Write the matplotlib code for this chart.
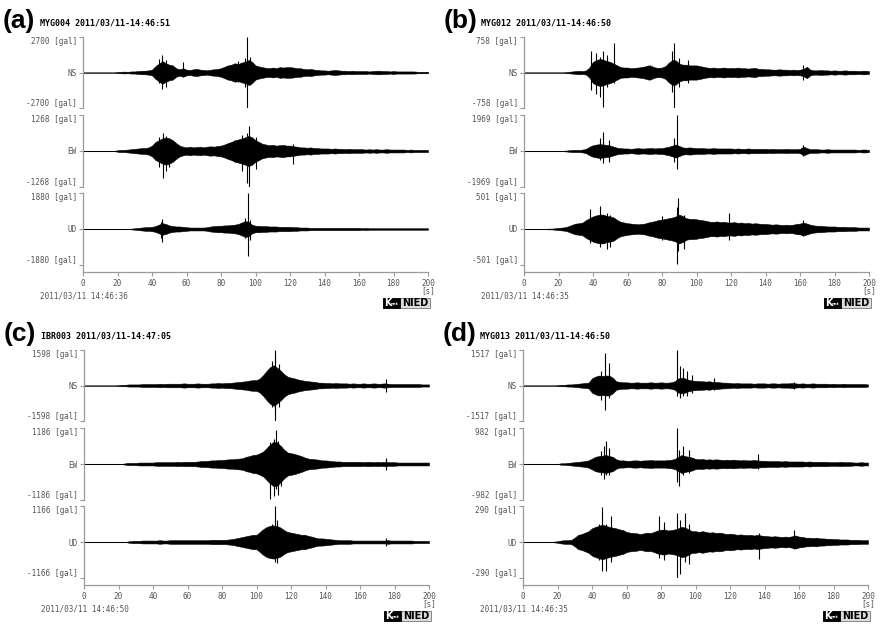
import numpy as np
import matplotlib.pyplot as plt
from matplotlib.patches import Rectangle

# sample times of the read-off envelopes (every 2 s, 0..200 s)
t = np.arange(0, 201, 2)

# panel labels and headers
labels = ['(a)', '(b)', '(c)', '(d)']
stations = ['MYG004 2011/03/11-14:46:51', 'MYG012 2011/03/11-14:46:50',
            'IBR003 2011/03/11-14:47:05', 'MYG013 2011/03/11-14:46:50']
start_times = ['2011/03/11 14:46:36', '2011/03/11 14:46:35',
               '2011/03/11 14:46:50', '2011/03/11 14:46:35']
components = ['NS', 'EW', 'UD']
scales = [[2700, 1268, 1880], [758, 1969, 501], [1598, 1186, 1166], [1517, 982, 290]]

# envelopes, fraction of full scale
env_a_ns = [0, 0, 0, 0, 0, 0, 0, 0, 0, 0,
            .015, .02, .025, .02, .03, .03, .04, .05, .05, .06,
            .08, .18, .25, .32, .26, .22, .2, .12, .09, .12,
            .08, .07, .09, .1, .08, .07, .06, .08, .09, .1,
            .12, .16, .2, .22, .26, .24, .28, .3, .35, .3,
            .2, .17, .15, .13, .12, .14, .12, .15, .14, .15,
            .15, .14, .12, .12, .1, .09, .1, .08, .07, .06,
            .06, .05, .06, .07, .06, .05, .05, .04, .05, .04,
            .04, .04, .04, .03, .04, .05, .05, .04, .04, .03,
            .04, .03, .03, .03, .03, .03, .03, .02, .02, .02, .02]
env_a_ew = [0, 0, 0, 0, 0, 0, 0, 0, 0, 0,
            .02, .03, .03, .04, .05, .06, .07, .08, .08, .1,
            .15, .25, .3, .35, .38, .35, .3, .22, .15, .12,
            .1, .12, .1, .11, .12, .1, .12, .13, .12, .14,
            .15, .18, .22, .25, .3, .32, .35, .38, .42, .38,
            .3, .25, .2, .18, .16, .17, .15, .16, .17, .15,
            .15, .13, .12, .1, .1, .09, .1, .08, .08, .07,
            .07, .07, .06, .07, .06, .06, .05, .06, .05, .05,
            .05, .05, .04, .05, .04, .05, .04, .04, .05, .04,
            .04, .04, .04, .04, .03, .04, .03, .03, .03, .03, .03]
env_a_ud = [0, 0, 0, 0, 0, 0, 0, 0, 0, 0,
            0, 0, 0, 0, .01, .02, .03, .04, .05, .05,
            .06, .08, .12, .16, .14, .1, .08, .07, .07, .06,
            .05, .04, .04, .04, .04, .04, .05, .07, .08, .09,
            .09, .1, .1, .11, .12, .14, .18, .22, .2, .12,
            .09, .09, .08, .08, .07, .07, .07, .06, .06, .06,
            .06, .05, .05, .04, .04, .04, .03, .03, .03, .03,
            .03, .03, .03, .03, .03, .03, .03, .03, .03, .03,
            .03, .02, .03, .02, .02, .02, .02, .02, .02, .02,
            .02, .02, .02, .02, .02, .02, .02, .02, .02, .02, .02]

env_b_ns = [0, 0, 0, 0, 0, 0, 0, 0, 0, 0,
            0, 0, .01, .02, .03, .04, .05, .04, .06, .15,
            .3, .35, .38, .36, .32, .3, .25, .2, .15, .14,
            .14, .12, .13, .14, .15, .17, .2, .18, .14, .13,
            .14, .18, .28, .35, .34, .25, .22, .22, .2, .2,
            .2, .18, .16, .14, .13, .14, .12, .13, .14, .12,
            .13, .12, .14, .12, .12, .11, .12, .13, .1, .1,
            .09, .09, .08, .08, .09, .08, .08, .07, .08, .07,
            .08, .1, .16, .08, .06, .06, .07, .06, .06, .05,
            .06, .05, .05, .06, .05, .05, .05, .04, .05, .05, .04]
env_b_ew = [0, 0, 0, 0, 0, 0, 0, 0, 0, 0,
            0, 0, .01, .02, .03, .03, .03, .04, .06, .12,
            .16, .18, .19, .18, .17, .15, .12, .09, .08, .07,
            .07, .06, .07, .08, .07, .07, .08, .08, .07, .08,
            .08, .1, .12, .15, .18, .14, .1, .09, .1, .09,
            .08, .08, .08, .07, .07, .08, .07, .07, .07, .07,
            .07, .06, .07, .06, .06, .07, .06, .06, .06, .06,
            .06, .05, .06, .05, .05, .05, .06, .05, .05, .05,
            .06, .12, .08, .05, .05, .05, .04, .04, .05, .04,
            .04, .04, .04, .04, .04, .04, .04, .03, .04, .04, .03]
env_b_ud = [0, 0, 0, 0, 0, 0, 0, .01, .01, .02,
            .03, .04, .05, .08, .12, .15, .16, .18, .25, .3,
            .35, .38, .4, .4, .36, .35, .32, .25, .2, .18,
            .16, .15, .14, .13, .14, .15, .18, .2, .22, .25,
            .26, .28, .3, .32, .35, .4, .36, .3, .28, .28,
            .27, .25, .24, .22, .2, .2, .21, .19, .2, .18,
            .18, .19, .17, .18, .16, .17, .15, .16, .15, .14,
            .14, .13, .12, .13, .12, .11, .12, .11, .12, .14,
            .15, .18, .15, .12, .1, .09, .09, .08, .07, .07,
            .07, .06, .06, .06, .05, .05, .05, .04, .04, .04, .04]

env_c_ns = [0, 0, 0, 0, 0, 0, 0, 0, 0, 0,
            .01, .02, .02, .03, .03, .03, .03, .04, .04, .04,
            .04, .04, .05, .04, .05, .05, .05, .05, .05, .06,
            .05, .05, .05, .06, .05, .05, .05, .06, .06, .07,
            .06, .07, .07, .08, .09, .1, .11, .12, .14, .15,
            .15, .2, .3, .42, .52, .57, .5, .42, .32, .25,
            .22, .2, .17, .15, .13, .12, .11, .1, .08, .08,
            .07, .07, .06, .07, .06, .06, .06, .05, .06, .05,
            .05, .06, .05, .05, .06, .05, .05, .06, .05, .04,
            .04, .04, .04, .04, .04, .04, .04, .04, .03, .03, .03]
env_c_ew = [0, 0, 0, 0, 0, 0, 0, 0, 0, 0,
            0, 0, .02, .03, .03, .03, .04, .04, .04, .04,
            .04, .05, .05, .05, .05, .05, .05, .06, .05, .06,
            .06, .06, .06, .07, .08, .08, .09, .1, .1, .11,
            .11, .12, .13, .13, .14, .15, .16, .2, .22, .25,
            .26, .3, .35, .45, .55, .62, .6, .5, .4, .32,
            .3, .28, .25, .22, .18, .15, .14, .13, .12, .1,
            .1, .09, .08, .07, .07, .06, .06, .06, .06, .06,
            .06, .05, .06, .06, .05, .06, .05, .06, .05, .05,
            .05, .04, .04, .04, .04, .04, .04, .04, .04, .04, .04]
env_c_ud = [0, 0, 0, 0, 0, 0, 0, 0, 0, 0,
            0, 0, 0, .02, .03, .03, .03, .04, .04, .04,
            .04, .04, .05, .04, .04, .05, .05, .05, .05, .05,
            .05, .05, .05, .05, .05, .05, .05, .06, .06, .06,
            .06, .06, .07, .08, .1, .12, .14, .16, .18, .2,
            .2, .28, .36, .42, .45, .46, .44, .4, .33, .28,
            .26, .24, .22, .2, .2, .17, .15, .12, .1, .1,
            .09, .08, .07, .06, .05, .05, .05, .05, .04, .04,
            .04, .04, .04, .04, .04, .04, .04, .04, .05, .04,
            .04, .04, .04, .04, .04, .04, .03, .03, .03, .03, .03]

env_d_ns = [0, 0, 0, 0, 0, 0, 0, 0, 0, 0,
            .01, .02, .02, .03, .03, .04, .05, .06, .07, .08,
            .2, .25, .28, .27, .28, .28, .22, .12, .1, .09,
            .09, .08, .08, .09, .08, .08, .08, .09, .08, .08,
            .09, .08, .08, .09, .12, .2, .22, .2, .16, .14,
            .13, .12, .12, .11, .12, .1, .1, .09, .08, .08,
            .07, .06, .07, .06, .06, .06, .06, .05, .06, .06,
            .06, .05, .06, .06, .05, .06, .06, .06, .07, .06,
            .05, .06, .05, .05, .06, .05, .05, .05, .05, .04,
            .05, .04, .04, .05, .04, .04, .04, .04, .04, .04, .03]
env_d_ew = [0, 0, 0, 0, 0, 0, 0, 0, 0, 0,
            0, .02, .02, .03, .04, .05, .06, .07, .08, .1,
            .15, .2, .22, .23, .25, .22, .2, .13, .1, .1,
            .09, .09, .1, .1, .09, .1, .1, .11, .1, .1,
            .1, .1, .11, .12, .14, .2, .25, .22, .2, .18,
            .14, .13, .14, .12, .13, .12, .13, .12, .11, .12,
            .11, .12, .11, .1, .11, .1, .1, .11, .1, .09,
            .09, .08, .08, .08, .08, .07, .08, .07, .07, .07,
            .07, .07, .06, .07, .06, .06, .06, .06, .06, .05,
            .05, .05, .06, .05, .05, .05, .04, .04, .05, .04, .04]
env_d_ud = [0, 0, 0, 0, 0, 0, 0, 0, 0, .01,
            .02, .04, .05, .05, .06, .12, .2, .22, .26, .3,
            .38, .42, .45, .48, .45, .42, .4, .38, .35, .33,
            .28, .26, .25, .24, .22, .24, .26, .25, .28, .32,
            .34, .35, .32, .33, .35, .38, .42, .4, .35, .3,
            .3, .28, .3, .28, .26, .27, .25, .26, .24, .22,
            .23, .22, .2, .21, .2, .19, .2, .18, .2, .18,
            .17, .16, .15, .16, .15, .14, .15, .14, .16, .18,
            .15, .14, .12, .12, .11, .12, .1, .1, .09, .09,
            .08, .08, .07, .07, .07, .06, .06, .06, .05, .05, .05]

# single spikes: (time s, up, down) as fraction of full scale
peaks_a_ns = [(44, .38, .3), (46, .5, .46), (48, .35, .4), (58, .3, .1),
              (90, .33, .28), (94, .42, .4), (95.3, 1.0, 1.0), (97, .45, .35)]
peaks_a_ew = [(44, .4, .45), (46.5, .5, .74), (48, .42, .55), (50, .35, .45),
              (92, .45, .55), (95, .5, .9), (96, .7, 1.0), (100, .4, .5), (122, .2, .37)]
peaks_a_ud = [(45, .2, .25), (46, .28, .35), (94, .3, .25), (95.5, 1.0, .75), (97, .25, .3)]

peaks_b_ns = [(39, .6, .5), (42, .55, .6), (44, .45, .7), (46, .6, .98), (48, .5, .4),
              (52, .83, .3), (73, .22, .2), (86, .6, .55), (87, .83, 1.0), (90, .4, .4),
              (95, .36, .3), (162, .22, .2)]
peaks_b_ew = [(44, .35, .25), (46, .52, .33), (49, .3, .3), (87, .35, .3),
              (88.5, 1.0, .5), (162, .16, .14)]
peaks_b_ud = [(38, .55, .4), (44, .63, .5), (48, .45, .55), (50, .4, .5), (80, .35, .3),
              (88.5, .6, .98), (89, .86, .6), (93, .4, .55), (119, .45, .3), (162, .25, .2)]

peaks_c_ns = [(109, .7, .6), (110.5, .8, 1.0), (111, 1.0, .75), (113, .6, .6), (175, .17, .17)]
peaks_c_ew = [(108, .6, .98), (110, .7, .9), (111.5, .95, .7), (112.5, .65, .85),
              (114, .5, .6), (175, .18, .17)]
peaks_c_ud = [(109, .5, .45), (111, 1.0, .55), (112, .6, .57), (175, .1, .1)]

peaks_d_ns = [(45, .4, .4), (47.5, .92, .68), (50, .64, .35), (89, 1.0, .3), (91, .55, .35),
              (93, .5, .3), (95, .4, .3), (98, .3, .2), (111, .22, .12), (157, .1, .1)]
peaks_d_ew = [(45, .35, .3), (47, .5, .41), (48, .64, .3), (50, .45, .3), (89, 1.0, .5),
              (90.5, .4, .61), (93, .5, .3), (96, .4, .25), (136, .27, .15)]
peaks_d_ud = [(44, .5, .5), (46, .97, .8), (48, .5, .8), (51, .71, .55), (79, .71, .45),
              (82, .55, .5), (89, .81, 1.0), (91, .6, .9), (94, .8, .55), (96, .5, .6),
              (137, .25, .48), (157, .33, .2)]

envelopes = [[env_a_ns, env_a_ew, env_a_ud], [env_b_ns, env_b_ew, env_b_ud],
             [env_c_ns, env_c_ew, env_c_ud], [env_d_ns, env_d_ew, env_d_ud]]
peaks = [[peaks_a_ns, peaks_a_ew, peaks_a_ud], [peaks_b_ns, peaks_b_ew, peaks_b_ud],
         [peaks_c_ns, peaks_c_ew, peaks_c_ud], [peaks_d_ns, peaks_d_ew, peaks_d_ud]]

W, H = 880, 624
fig = plt.figure(figsize=(W / 100, H / 100), dpi=100)
mono = 'DejaVu Sans Mono'
grey = '#9a9a9a'
txt = '#555555'


def px_axes(x0, y0, w, h):
    return fig.add_axes([x0 / W, 1 - (y0 + h) / H, w / W, h / H])


origins = [(83, 0), (524, 0), (84, 313), (523, 313)]
bands = [(37, 71), (115, 72), (193, 72)]
axw = 345

for p in range(4):
    ox, oy = origins[p]
    for c in range(3):
        top, hgt = bands[c]
        ax = px_axes(ox, oy + top, axw, hgt)
        ax.set_xlim(0, 200)
        ax.set_ylim(-1, 1)
        for s in ['top', 'right', 'bottom']:
            ax.spines[s].set_visible(False)
        ax.spines['left'].set_color(grey)
        ax.spines['left'].set_linewidth(0.9)
        ax.set_xticks([])
        sc = scales[p][c]
        ax.set_yticks([-1, 0, 1])
        ax.set_yticklabels([f'-{sc} [gal]', components[c], f'{sc} [gal]'],
                           fontfamily=mono, fontsize=5.5, color=txt)
        ylabs = ax.get_yticklabels()
        ylabs[0].set_va('bottom')
        ylabs[2].set_va('top')
        ax.tick_params(axis='y', length=3, width=0.8, color=grey, pad=1.5)
        ax.patch.set_visible(False)
        ax.axhline(0, color=grey, lw=0.8, zorder=1)
        env = np.array(envelopes[p][c])
        ax.fill_between(t, -env, env, color='black', lw=0.4, zorder=2)
        pk = np.array(peaks[p][c])
        ax.vlines(pk[:, 0], -pk[:, 2], pk[:, 1], color='black', lw=0.8, zorder=3)

    # time axis
    axx = px_axes(ox, oy + 265, axw, 7)
    axx.set_xlim(0, 200)
    axx.set_ylim(0, 1)
    for s in ['top', 'right']:
        axx.spines[s].set_visible(False)
    for s in ['left', 'bottom']:
        axx.spines[s].set_color(grey)
        axx.spines[s].set_linewidth(0.9)
    axx.set_yticks([])
    axx.set_xticks(np.arange(0, 201, 20))
    axx.tick_params(axis='x', length=3, width=0.8, color=grey, pad=2,
                    labelsize=5.5, labelcolor=txt)
    for lab in axx.get_xticklabels():
        lab.set_fontfamily(mono)
    axx.patch.set_visible(False)

    # headers and footers
    fx = ox - 83
    fig.text((fx + 3) / W, 1 - (oy + 21) / H, labels[p], fontsize=19,
             fontweight='bold', family='Liberation Sans', ha='left', va='center')
    fig.text((fx + 40) / W, 1 - (oy + 23) / H, stations[p], fontsize=6,
             fontweight='bold', family=mono, ha='left', va='center')
    fig.text((fx + 40) / W, 1 - (oy + 296) / H, start_times[p], fontsize=5.5,
             family=mono, color=txt, ha='left', va='center')
    fig.text((ox + axw) / W, 1 - (oy + 291) / H, '[s]', fontsize=5.5,
             family=mono, color=txt, ha='center', va='center')

    # K-NET NIED badge
    bx, by = ox + axw - 45, oy + 298
    fig.patches.append(Rectangle((bx / W, 1 - (by + 10) / H), 47 / W, 10 / H,
                                 transform=fig.transFigure, facecolor='#dcdcdc',
                                 edgecolor='#777777', lw=0.6))
    fig.patches.append(Rectangle((bx / W, 1 - (by + 10) / H), 17 / W, 10 / H,
                                 transform=fig.transFigure, facecolor='black',
                                 edgecolor='black', lw=0.6))
    fig.text((bx + 1.5) / W, 1 - (by + 5) / H, 'K', fontsize=7, fontweight='bold',
             family='DejaVu Sans', color='white', ha='left', va='center')
    fig.text((bx + 8) / W, 1 - (by + 6.5) / H, 'net', fontsize=3, fontweight='bold',
             family='DejaVu Sans', color='white', ha='left', va='center')
    fig.text((bx + 32) / W, 1 - (by + 5) / H, 'NIED', fontsize=7, fontweight='bold',
             family='DejaVu Sans', color='black', ha='center', va='center')

plt.savefig('out.png', dpi=100)
